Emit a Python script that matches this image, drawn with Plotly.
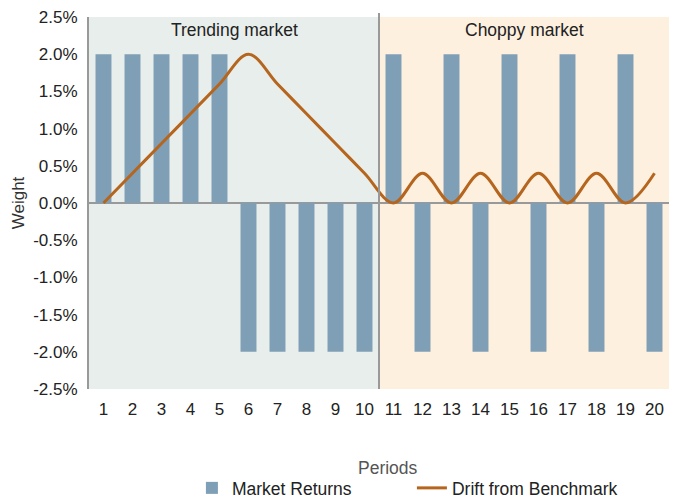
import plotly.graph_objects as go

periods = list(range(1, 21))
market_returns = [2.0, 2.0, 2.0, 2.0, 2.0, -2.0, -2.0, -2.0, -2.0, -2.0,
                  2.0, -2.0, 2.0, -2.0, 2.0, -2.0, 2.0, -2.0, 2.0, -2.0]
drift = [0.0, 0.4, 0.8, 1.2, 1.6, 2.0, 1.6, 1.2, 0.8, 0.4,
         0.0, 0.4, 0.0, 0.4, 0.0, 0.4, 0.0, 0.4, 0.0, 0.4]
y_ticks = [-2.5, -2.0, -1.5, -1.0, -0.5, 0.0, 0.5, 1.0, 1.5, 2.0, 2.5]

BAR = "#7F9FB6"
LINE = "#B5651D"
FONT = "Liberation Sans, Arial, sans-serif"

W, H = 674, 499
PLOT_L, PLOT_R, PLOT_T, PLOT_B = 89, 669.5, 17, 389
L, T = PLOT_L, PLOT_T
R = W - PLOT_R
B = H - PLOT_B
PW = PLOT_R - PLOT_L
PH = PLOT_B - PLOT_T


def px_x(x):
    return (x - PLOT_L) / PW


def px_y(y):
    return (PLOT_B - y) / PH


fig = go.Figure()
fig.add_trace(go.Bar(x=periods, y=market_returns, name="Market Returns",
                     marker=dict(color=BAR, line=dict(width=0)), width=0.55))
fig.add_trace(go.Scatter(x=periods, y=drift, name="Drift from Benchmark", mode="lines",
                         line=dict(color=LINE, width=3, shape="spline", smoothing=1.0)))

fig.add_shape(type="rect", xref="x", yref="paper", x0=0.5, x1=10.5, y0=0, y1=1,
              fillcolor="#E8EEEB", line=dict(width=0), layer="below")
fig.add_shape(type="rect", xref="x", yref="paper", x0=10.5, x1=20.5, y0=0, y1=1,
              fillcolor="#FDF0DF", line=dict(width=0), layer="below")
fig.add_shape(type="line", xref="x", yref="paper", x0=10.5, x1=10.5, y0=0, y1=1 + 4 / PH,
              line=dict(color="#999999", width=2))

fig.add_annotation(x=5.5, y=2.33, xref="x", yref="y", text="Trending market",
                   showarrow=False, font=dict(size=17.5, color="#222222", family=FONT))
fig.add_annotation(x=15.5, y=2.33, xref="x", yref="y", text="Choppy market",
                   showarrow=False, font=dict(size=17.5, color="#222222", family=FONT))
fig.add_annotation(x=px_x(388), y=px_y(468), xref="paper", yref="paper",
                   xanchor="center", yanchor="middle",
                   text="Periods", showarrow=False,
                   font=dict(size=17.5, color="#555555", family=FONT))

fig.update_layout(
    width=W, height=H,
    margin=dict(l=L, r=R, t=T, b=B),
    paper_bgcolor="white", plot_bgcolor="white",
    font=dict(family=FONT, size=17, color="#222222"),
    showlegend=True,
    legend=dict(orientation="h", x=px_x(192), xanchor="left",
                yref="container", y=1 - 488 / H, yanchor="middle",
                font=dict(size=17.5, color="#222222"), entrywidth=175,
                bgcolor="rgba(0,0,0,0)"),
)
fig.update_xaxes(range=[0.5, 20.5], tickmode="array", tickvals=periods,
                 ticktext=[str(p) for p in periods], showgrid=False, zeroline=False,
                 showline=False, ticks="", ticklabelstandoff=8, automargin=False,
                 tickfont=dict(size=17, color="#222222"))
fig.update_yaxes(range=[-2.5, 2.5], tickmode="array", tickvals=y_ticks,
                 ticktext=[f"{v:.1f}%" for v in y_ticks], showgrid=False,
                 zeroline=True, zerolinecolor="#999999", zerolinewidth=2,
                 showline=True, linecolor="#999999", linewidth=2,
                 ticks="", ticklabelstandoff=6, automargin=False,
                 tickfont=dict(size=17, color="#222222"),
                 title=dict(text="Weight", font=dict(size=17, color="#333333"), standoff=4))

fig.write_html("out.html", config={"displayModeBar": False},
               post_script="document.body.style.margin='0';document.body.style.overflow='hidden';")
